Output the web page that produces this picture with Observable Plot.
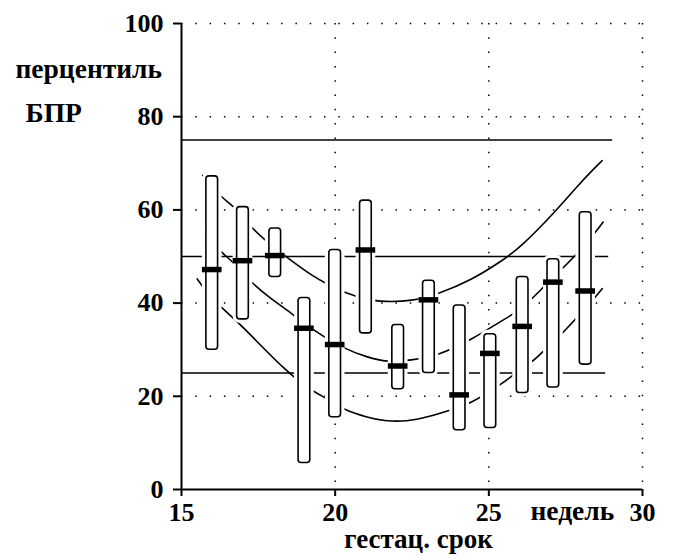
<!DOCTYPE html>
<html>
<head>
<meta charset="utf-8">
<script src="https://cdn.jsdelivr.net/npm/d3@7"></script>
<script src="https://cdn.jsdelivr.net/npm/@observablehq/plot@0.6"></script>
<style>
  html, body { margin: 0; padding: 0; background: #fff; }
</style>
</head>
<body>
<div id="chart"></div>
<script>
// ---- data ----
const xTicks = [15, 20, 25, 30];
const yTicks = [0, 20, 40, 60, 80, 100];
const gridWeeks = [20, 25, 30];
const gridLevels = [20, 40, 60, 80, 100];

// reference percentile levels (horizontal lines) and where they end
const refLevels = [75, 50, 25];
const refEnds = [29.03, 28.9, 28.8];

// box data: gestational week, low, high, median percentile
const boxWeeks   = [16, 17, 18.05, 19, 20, 21, 22.05, 23.05, 24.05, 25.05, 26.1, 27.1, 28.15];
const boxLow     = [30.0, 36.5, 45.6, 5.7, 15.5, 33.5, 21.5, 25.0, 12.7, 13.2, 20.7, 21.9, 26.8];
const boxHigh    = [67.2, 60.6, 56.0, 41.1, 51.4, 62.0, 35.3, 44.8, 39.5, 33.3, 45.6, 49.4, 59.5];
const boxMedian  = [47.2, 49.1, 50.2, 34.6, 31.1, 51.4, 26.5, 40.7, 20.3, 29.2, 35.0, 44.5, 42.6];

// fitted curves: [week, percentile]
const upperCurve = [[15.69,67.4],[16.27,62.7],[16.76,60.6],[17.25,56.3],[17.73,53.4],[18.49,49.5],[19.31,45.6],[19.74,44.1],[20.28,42.3],[20.77,41.3],[21.37,40.2],[22.56,40.4],[23.37,42.0],[24.4,44.8],[25.44,49.1],[26.03,52.0],[27.11,59.2],[27.98,65.9],[28.69,70.6]];
const middleCurve = [[15.69,55.4],[16.27,50.9],[16.7,48.8],[17.25,44.5],[17.84,41.3],[18.6,37.7],[19.31,34.1],[20.28,30.2],[21.04,28.4],[21.69,27.3],[22.45,27.7],[23.37,28.8],[24.4,32.0],[25.44,36.3],[25.82,37.7],[26.41,40.9],[26.77,43.4],[27.39,47.4],[27.88,50.6],[28.47,55.2],[28.72,57.4]];
const lowerCurve = [[15.51,45.2],[15.73,43.1],[16.27,39.1],[16.8,36.3],[18.44,25.0],[19.31,20.9],[19.74,19.5],[20.28,17.1],[21.04,15.5],[21.58,14.7],[22.34,14.6],[23.0,15.5],[23.86,17.3],[24.4,18.4],[25.44,22.7],[25.82,24.8],[26.41,27.3],[26.85,30.2],[27.44,33.8],[27.98,37.7],[28.47,41.3],[28.69,43.1]];

const boxes = boxWeeks.map((w, i) => ({w, lo: boxLow[i], hi: boxHigh[i], med: boxMedian[i]}));
const halfBox = 0.19, halfMed = 0.32;
const labelSize = 27.5;

const chart = Plot.plot({
  width: 680,
  height: 560,
  marginLeft: 181,
  marginRight: 38,
  marginTop: 23,
  marginBottom: 71,
  x: {domain: [15, 30], ticks: xTicks},
  y: {domain: [0, 100], ticks: yTicks},
  style: {
    fontFamily: "'Liberation Serif', 'Times New Roman', serif",
    fontWeight: "bold",
    fontSize: "26px",
    background: "white",
    color: "black",
    overflow: "visible"
  },
  marks: [
    // dotted grid
    Plot.ruleX(gridWeeks, {stroke: "black", strokeWidth: 1.5, strokeDasharray: "1.5 12.8"}),
    Plot.ruleY(gridLevels, {stroke: "black", strokeWidth: 1.5, strokeDasharray: "1.5 12.8"}),
    // reference percentile lines
    Plot.ruleY(refLevels, {y: d => d, x1: 15, x2: (d, i) => refEnds[i], stroke: "black", strokeWidth: 1.5}),
    // curves
    Plot.line(upperCurve, {x: d => d[0], y: d => d[1], curve: "basis", stroke: "black", strokeWidth: 1.6}),
    Plot.line(middleCurve, {x: d => d[0], y: d => d[1], curve: "basis", stroke: "black", strokeWidth: 1.6}),
    Plot.line(lowerCurve, {x: d => d[0], y: d => d[1], curve: "basis", stroke: "black", strokeWidth: 1.6}),
    // boxes: white halo then outline
    Plot.rect(boxes, {x1: d => d.w - halfBox, x2: d => d.w + halfBox, y1: "lo", y2: "hi", fill: "white", stroke: "white", strokeWidth: 8, rx: 3}),
    Plot.rect(boxes, {x1: d => d.w - halfBox, x2: d => d.w + halfBox, y1: "lo", y2: "hi", fill: "white", stroke: "black", strokeWidth: 1.6, rx: 3}),
    // median markers
    Plot.ruleY(boxes, {y: "med", x1: d => d.w - halfMed, x2: d => d.w + halfMed, stroke: "black", strokeWidth: 5.5}),
    // axes
    Plot.axisX({ticks: xTicks, tickSize: 7, tickPadding: 6, strokeWidth: 2, label: null, fontSize: 26}),
    Plot.axisY({ticks: yTicks, tickSize: 8, tickPadding: 10, strokeWidth: 2, label: null, fontSize: 26}),
    Plot.ruleX([15], {strokeWidth: 2}),
    Plot.ruleY([0], {x1: 15, x2: 30, strokeWidth: 2}),
    // labels
    Plot.text(["перцентиль"], {frameAnchor: "top-left", dx: -166, dy: 35, textAnchor: "start", fontSize: labelSize}),
    Plot.text(["БПР"], {frameAnchor: "top-left", dx: -156, dy: 79, textAnchor: "start", fontSize: labelSize}),
    Plot.text(["недель"], {frameAnchor: "bottom-left", dx: 349, dy: 30, textAnchor: "start", fontSize: labelSize}),
    Plot.text(["гестац. срок"], {frameAnchor: "bottom-left", dx: 237, dy: 58, textAnchor: "middle", fontSize: 27})
  ]
});
document.getElementById("chart").appendChild(chart);
</script>
</body>
</html>
